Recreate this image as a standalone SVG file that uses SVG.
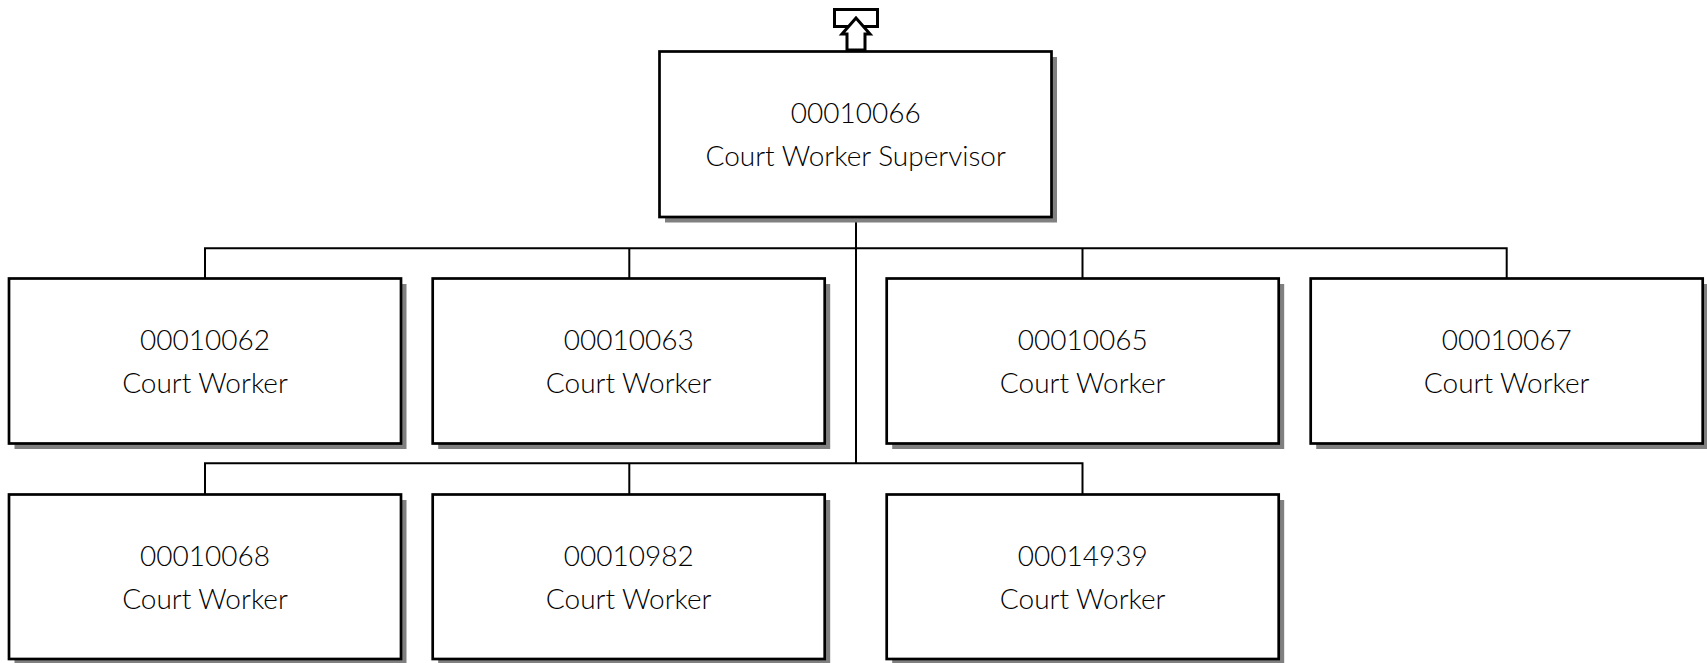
<svg xmlns="http://www.w3.org/2000/svg" width="1707" height="663" viewBox="0 0 1707 663">
<style>
.sh{fill:#808080;stroke:none}
.bx{fill:#fff;stroke:#000;stroke-width:2.7}
.ln{fill:none;stroke:#000;stroke-width:2}
text{font-family:Lato,"Open Sans","Liberation Sans",sans-serif;font-weight:300;font-size:28px;fill:#000;text-anchor:middle}
</style>
<rect width="1707" height="663" fill="#fff"/>
<g id="connectors">
<path class="ln" d="M856 217V463.3M205 278.5V248.3H1506.7V278.5M629.3 248.3V278.5M1082.5 248.3V278.5M205 494.5V463.3H1082.5V494.5M629.3 463.3V494.5"/>
</g>
<g id="n00010066">
<rect class="sh" x="665" y="57" width="392" height="165.5"/>
<rect class="bx" x="659.5" y="51.5" width="392" height="165.5"/>
<text x="855.7" y="123.3">00010066</text>
<text x="855.7" y="166">Court Worker Supervisor</text>
<g id="up-icon">
<rect x="834.5" y="9.5" width="43" height="17" fill="#fff" stroke="#000" stroke-width="3"/>
<path d="M856 18L842 34H847V50H865V34H870Z" fill="#fff" stroke="#000" stroke-width="3" stroke-linejoin="miter"/>
</g>
</g>
<g id="n00010062">
<rect class="sh" x="14.5" y="284" width="392" height="165"/>
<rect class="bx" x="9" y="278.5" width="392" height="165"/>
<text x="205" y="350">00010062</text>
<text x="205" y="393.3">Court Worker</text>
</g>
<g id="n00010063">
<rect class="sh" x="438.2" y="284" width="392" height="165"/>
<rect class="bx" x="432.7" y="278.5" width="392" height="165"/>
<text x="628.7" y="350">00010063</text>
<text x="628.7" y="393.3">Court Worker</text>
</g>
<g id="n00010065">
<rect class="sh" x="892.2" y="284" width="392" height="165"/>
<rect class="bx" x="886.7" y="278.5" width="392" height="165"/>
<text x="1082.7" y="350">00010065</text>
<text x="1082.7" y="393.3">Court Worker</text>
</g>
<g id="n00010067">
<rect class="sh" x="1316.2" y="284" width="392" height="165"/>
<rect class="bx" x="1310.7" y="278.5" width="392" height="165"/>
<text x="1506.7" y="350">00010067</text>
<text x="1506.7" y="393.3">Court Worker</text>
</g>
<g id="n00010068">
<rect class="sh" x="14.5" y="500" width="392" height="164.5"/>
<rect class="bx" x="9" y="494.5" width="392" height="164.5"/>
<text x="205" y="566">00010068</text>
<text x="205" y="609.3">Court Worker</text>
</g>
<g id="n00010982">
<rect class="sh" x="438.2" y="500" width="392" height="164.5"/>
<rect class="bx" x="432.7" y="494.5" width="392" height="164.5"/>
<text x="628.7" y="566">00010982</text>
<text x="628.7" y="609.3">Court Worker</text>
</g>
<g id="n00014939">
<rect class="sh" x="892.2" y="500" width="392" height="164.5"/>
<rect class="bx" x="886.7" y="494.5" width="392" height="164.5"/>
<text x="1082.7" y="566">00014939</text>
<text x="1082.7" y="609.3">Court Worker</text>
</g>
</svg>
